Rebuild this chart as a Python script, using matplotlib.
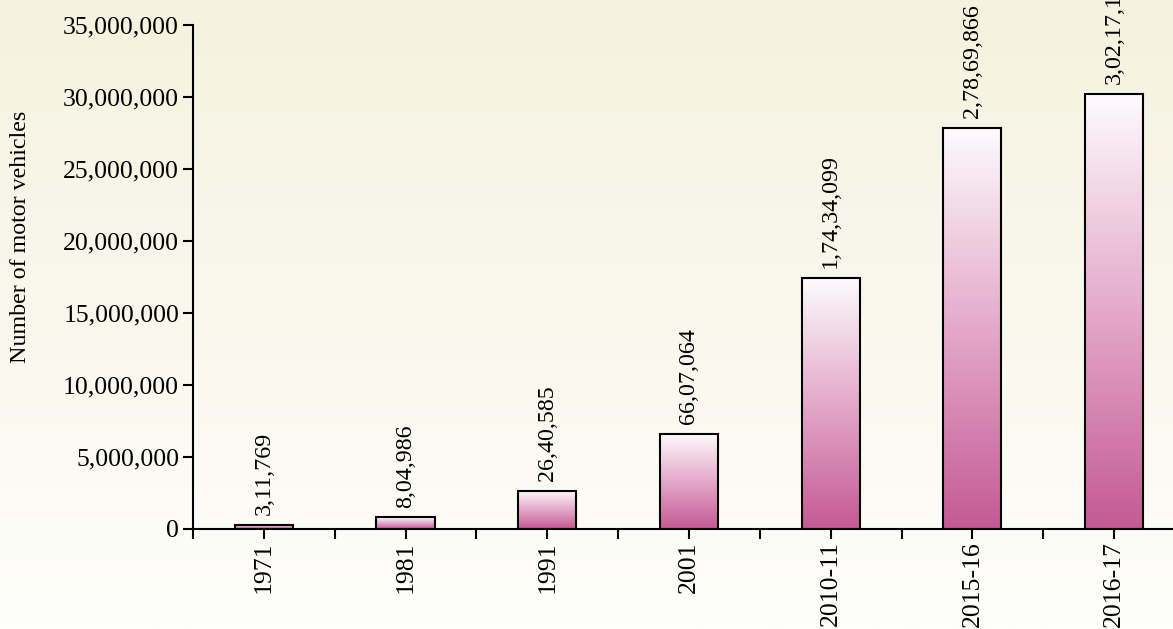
import numpy as np
import matplotlib
matplotlib.use("Agg")
import matplotlib.pyplot as plt
from matplotlib.colors import LinearSegmentedColormap
from matplotlib.ticker import FuncFormatter

# data
years = ["1971", "1981", "1991", "2001", "2010-11", "2015-16", "2016-17"]
vehicles = [311769, 804986, 2640585, 6607064, 17434099, 27869866, 30217114]


def indian_fmt(n):
    # 12345678 -> 1,23,45,678
    s = str(int(n))
    if len(s) <= 3:
        return s
    head, tail = s[:-3], s[-3:]
    parts = []
    while len(head) > 2:
        parts.insert(0, head[-2:])
        head = head[:-2]
    if head:
        parts.insert(0, head)
    return ",".join(parts) + "," + tail


plt.rcParams['font.family'] = ['Liberation Serif', 'DejaVu Serif']

fig = plt.figure(figsize=(11.73, 6.29), dpi=100)

# background gradient over whole figure
bg = fig.add_axes([0, 0, 1, 1], zorder=-1)
bg_cmap = LinearSegmentedColormap.from_list("bg", ["#fefefb", "#f5f2df"])
bg.imshow(np.linspace(0, 1, 256).reshape(-1, 1), cmap=bg_cmap, aspect='auto',
          origin='lower', extent=(0, 1, 0, 1))
bg.set_axis_off()

ax = fig.add_axes([0.1645, 0.159, 0.8457, 0.801])
ax.patch.set_alpha(0)

bar_cmap = LinearSegmentedColormap.from_list("bar", ["#c45a94", "#e4a9ca", "#fdfbfd"])
grad = np.linspace(0, 1, 256).reshape(-1, 1)
x = np.arange(len(years))
w = 0.41

bars = ax.bar(x, vehicles, width=w, facecolor='none', edgecolor='black', linewidth=1.5, zorder=3)
for xi, v in zip(x, vehicles):
    ax.imshow(grad, cmap=bar_cmap, aspect='auto', origin='lower',
              extent=(xi - w / 2, xi + w / 2, 0, v), zorder=2)
    ax.annotate(indian_fmt(v), (xi, v), xytext=(0, 7), textcoords='offset points',
                rotation=90, ha='center', va='bottom', fontsize=17.3)

ax.set_xlim(-0.5, len(years) - 0.5)
ax.set_ylim(0, 35000000)
ax.set_yticks(np.arange(0, 35000001, 5000000))
ax.yaxis.set_major_formatter(FuncFormatter(lambda v, p: f"{v:,.0f}"))
ax.set_xticks(x)
ax.set_xticklabels(years, rotation=90)
ax.set_xticks(np.arange(-0.5, len(years), 1), minor=True)

ax.tick_params(axis='both', which='both', length=7, width=1.5, direction='out', labelsize=18.5)
ax.tick_params(axis='x', which='major', pad=2)
ax.tick_params(axis='y', which='major', pad=3)

for s in ['top', 'right']:
    ax.spines[s].set_visible(False)
for s in ['left', 'bottom']:
    ax.spines[s].set_linewidth(1.5)

fig.text(21 / 1173, 1 - 237 / 629, "Number of motor vehicles", rotation=90,
         ha='center', va='center', fontsize=17.3)

fig.savefig("out.png", dpi=100)
